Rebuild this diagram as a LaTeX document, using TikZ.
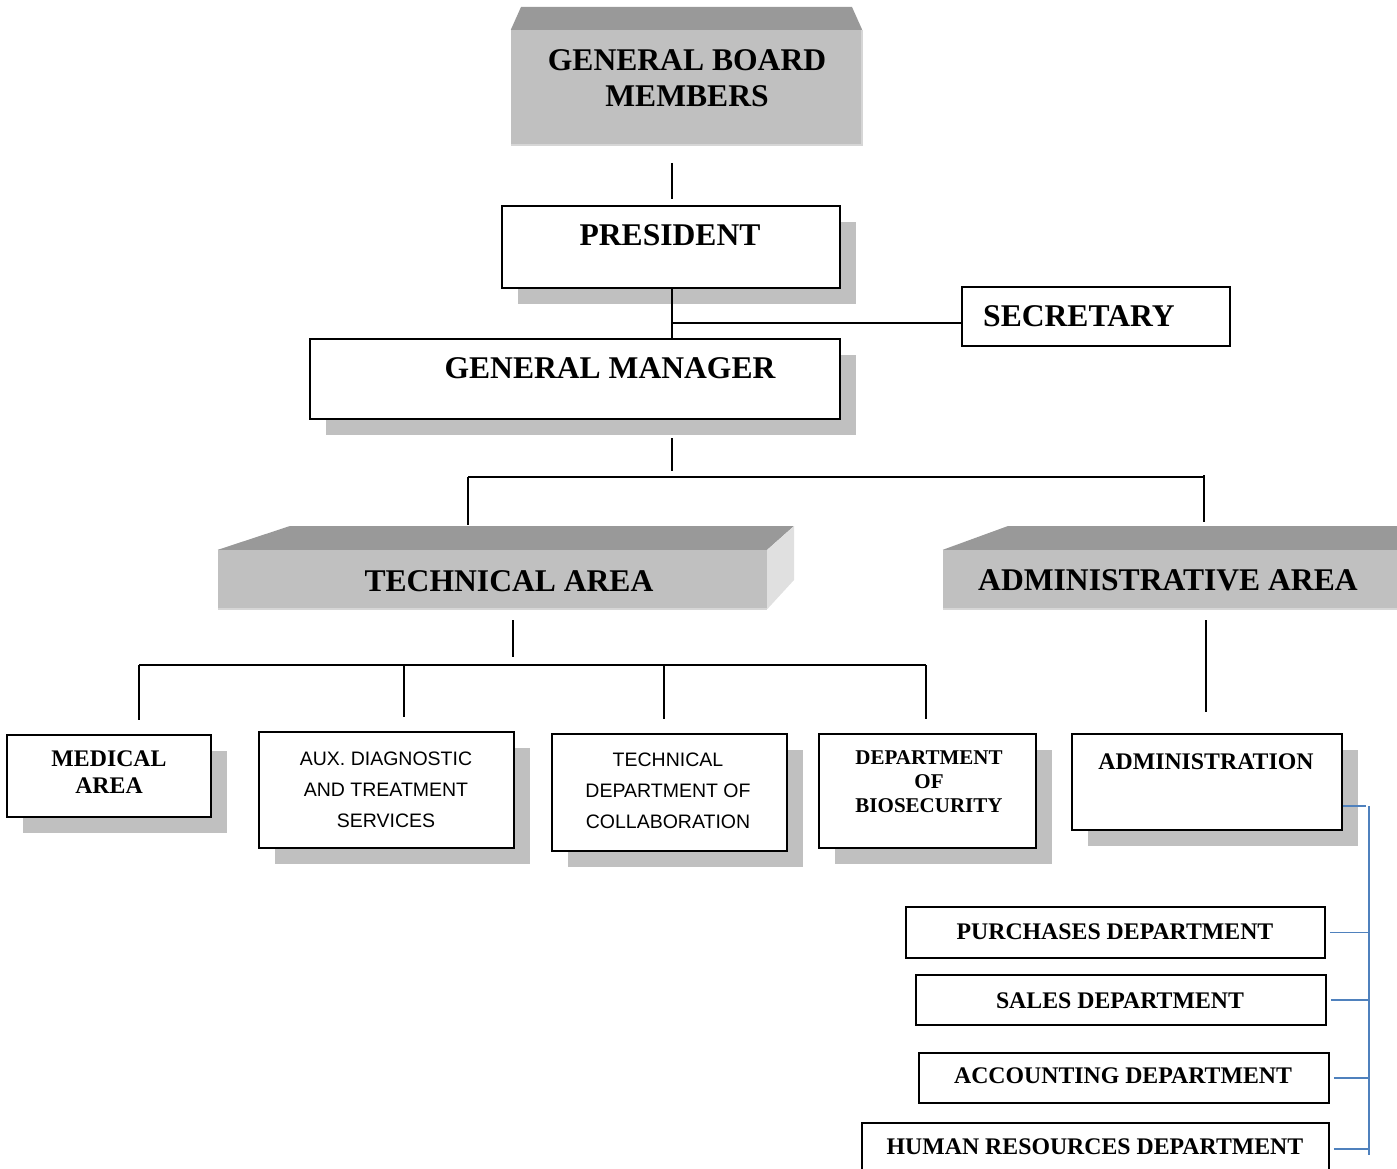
\documentclass[tikz,border=0pt]{standalone}
\usepackage{fontspec}
\setmainfont{Liberation Serif}
\setsansfont{Liberation Sans}
\usetikzlibrary{calc,fit,shadows}

\definecolor{facegray}{HTML}{C0C0C0}
\definecolor{topgray}{HTML}{999999}
\definecolor{sidegray}{HTML}{E0E0E0}
\definecolor{bevelgray}{HTML}{D6D6D6}
\definecolor{shadowgray}{HTML}{C0C0C0}
\definecolor{linkblue}{HTML}{4F81BD}

\tikzset{
  orgbox/.style={draw=black, line width=1.8pt, fill=white, inner sep=0pt},
  castshadow/.style={general shadow={fill=shadowgray, shadow xshift=16pt, shadow yshift=-16pt}},
  face/.style={fill=facegray, inner sep=0pt},
  topface/.style={fill=topgray},
  sideface/.style={fill=sidegray},
  bevel/.style={draw=bevelgray, line width=1.5pt},
  link/.style={draw=black, line width=1.5pt},
  sublink/.style={draw=linkblue, line width=1.6pt},
  bigtxt/.style={font=\fontsize{31.6}{36}\selectfont\bfseries, align=center, inner sep=0pt},
  midtxt/.style={font=\fontsize{23.8}{27}\selectfont\bfseries, align=center, inner sep=0pt},
  smalltxt/.style={font=\fontsize{21}{24}\selectfont\bfseries, align=center, inner sep=0pt},
  sanstxt/.style={font=\fontsize{19.5}{31}\selectfont\sffamily, align=center, inner sep=0pt},
}

\begin{document}
\begin{tikzpicture}[x=1pt,y=-1pt]
\useasboundingbox (0,0) rectangle (1397,1169);
\clip (0,0) rectangle (1397,1169);

% ---------- board: bevelled block ----------
\node[face, fit={(511,30) (862,145)}] (gbm) {};
\fill[topface] (gbm.north west) -- (521,7) -- (852,7) -- (gbm.north east) -- cycle;
\draw[bevel] (gbm.south west) -- (gbm.south east) -- (gbm.north east);
\node[bigtxt] (gbmtxt) at (687,78) {GENERAL BOARD\\MEMBERS};

% ---------- executive boxes ----------
\node[orgbox, castshadow, fit={(502,206) (840,288)}] (pres) {};
\node[bigtxt] (prestxt) at (670,235) {PRESIDENT};

\node[orgbox, fit={(962,287) (1230,346)}] (sec) {};
\node[bigtxt, anchor=west] (sectxt) at (983,316) {SECRETARY};

\node[orgbox, castshadow, fit={(310,339) (840,419)}] (gm) {};
\node[bigtxt] (gmtxt) at (610,368) {GENERAL MANAGER};

% ---------- area blocks ----------
\node[face, fit={(218,550) (767,609)}] (ta) {};
\fill[topface] (ta.north west) -- (290,526) -- (794,526) -- (ta.north east) -- cycle;
\fill[sideface] (ta.north east) -- (794,526) -- (794,580) -- (ta.south east) -- cycle;
\draw[bevel] (ta.south west) -- (ta.south east);
\node[bigtxt] (tatxt) at (509,581) {TECHNICAL AREA};

\node[face, fit={(943,550) (1410,609)}] (aa) {};
\fill[topface] (aa.north west) -- (1008,526) -- (1410,526) -- (aa.north east) -- cycle;
\draw[bevel] (aa.south west) -- (aa.south east);
\node[bigtxt] (aatxt) at (1168,580) {ADMINISTRATIVE AREA};

% ---------- technical departments ----------
\node[orgbox, castshadow, fit={(7,735) (211,817)}] (med) {};
\node[midtxt] (medtxt) at (109,772) {MEDICAL\\AREA};

\node[orgbox, castshadow, fit={(259,732) (514,848)}] (aux) {};
\node[sanstxt] (auxtxt) at (386,790) {AUX. DIAGNOSTIC\\AND TREATMENT\\SERVICES};

\node[orgbox, castshadow, fit={(552,734) (787,851)}] (tdc) {};
\node[sanstxt] (tdctxt) at (668,791) {TECHNICAL\\DEPARTMENT OF\\COLLABORATION};

\node[orgbox, castshadow, fit={(819,734) (1036,848)}] (bio) {};
\node[smalltxt] (biotxt) at (929,782) {DEPARTMENT\\OF\\BIOSECURITY};

% ---------- administration ----------
\node[orgbox, castshadow, fit={(1072,734) (1342,830)}] (adm) {};
\node[midtxt] (admtxt) at (1206,762) {ADMINISTRATION};

\node[orgbox, fit={(906,907) (1325,958)}] (pur) {};
\node[midtxt] (purtxt) at (1115,932) {PURCHASES DEPARTMENT};

\node[orgbox, fit={(916,975) (1326,1025)}] (sal) {};
\node[midtxt] (saltxt) at (1120,1001) {SALES DEPARTMENT};

\node[orgbox, fit={(919,1053) (1329,1103)}] (acc) {};
\node[midtxt] (acctxt) at (1123,1076) {ACCOUNTING DEPARTMENT};

\node[orgbox, fit={(862,1123) (1329,1175)}] (hr) {};
\node[midtxt] (hrtxt) at (1095,1147) {HUMAN RESOURCES DEPARTMENT};

% ---------- black hierarchy lines ----------
\coordinate (boardfoot) at (672,163);
\draw[link] (boardfoot) -- ($(boardfoot |- pres.north)+(0,-6)$);

\coordinate (presfoot) at (pres.south -| boardfoot);
\draw[link] (presfoot) -- (presfoot |- gm.north);
\coordinate (secjoin) at (672,323);
\draw[link] (secjoin) -- (secjoin -| sec.west);

\coordinate (gmfoot) at (672,438);
\coordinate (areabar) at (672,477);
\draw[link] (gmfoot) -- ($(areabar)+(0,-6)$);
\coordinate (tadrop) at (468,477);
\coordinate (aadrop) at (1204,477);
\draw[link] (tadrop) -- (aadrop);
\draw[link] (tadrop) -- ($(tadrop |- ta.north)+(0,-25)$);
\draw[link] ($(aadrop)+(0,-2)$) -- ($(aadrop |- aa.north)+(0,-28)$);

\coordinate (tafoot) at (513,620);
\coordinate (techbar) at (513,665);
\draw[link] (tafoot) -- ($(techbar)+(0,-8)$);
\draw[link] (139,665) -- (926,665);
\foreach \col/\bx in {139/med, 404/aux, 664/tdc, 926/bio}{
  \draw[link] (\col,665) -- ($(\col,665 |- \bx.north)+(0,-14)$);
}

\coordinate (aafoot) at (1206,620);
\draw[link] (aafoot) -- ($(aafoot |- adm.north)+(0,-21)$);

% ---------- blue bracket under administration ----------
\coordinate (bracket) at (1369,806);
\draw[sublink] (adm.east |- bracket) -- ($(bracket)+(-3,0)$);
\draw[sublink] (bracket) -- (1369,1155);
\foreach \dep in {pur, sal, acc, hr}{
  \draw[sublink] ($(\dep.east)+(4,0)$) -- (\dep.east -| bracket);
}
\end{tikzpicture}
\end{document}
